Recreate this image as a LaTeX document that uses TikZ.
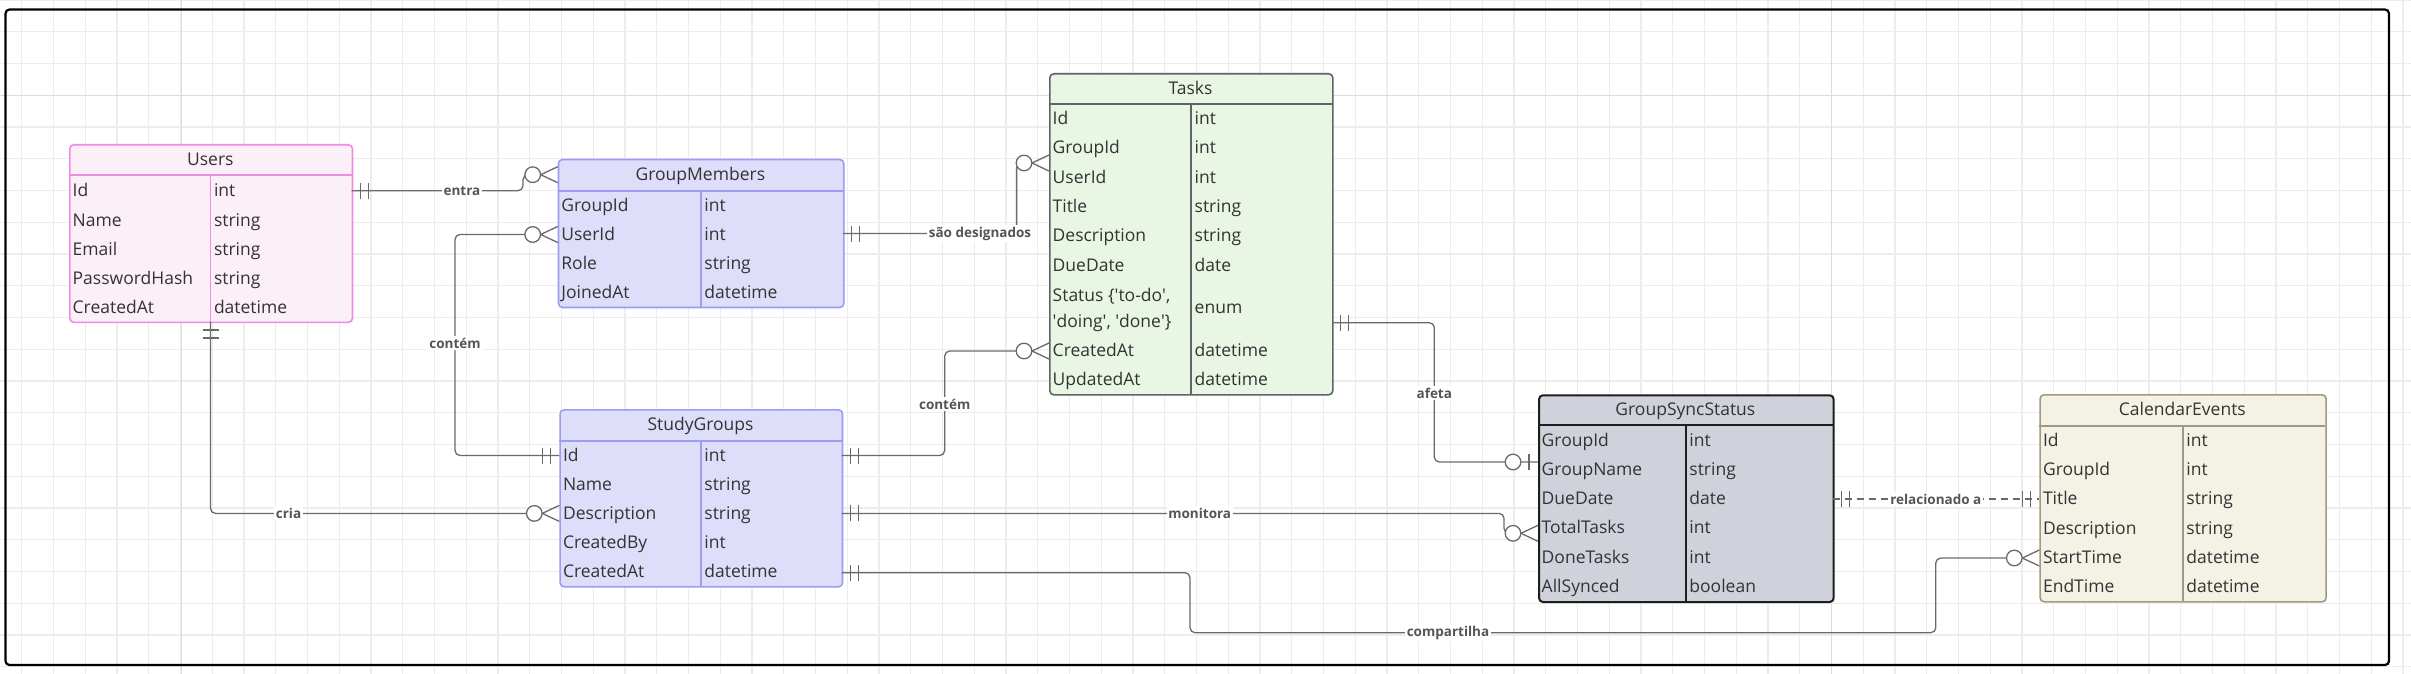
\documentclass[tikz,border=0pt]{standalone}
\usepackage{fontspec}
\setmainfont{Open Sans}
\usetikzlibrary{calc}
\definecolor{usersfill}{HTML}{FBEFF8}
\definecolor{usersdraw}{HTML}{EE8BE2}
\definecolor{grpfill}{HTML}{DEDEFB}
\definecolor{grpdraw}{HTML}{9C9CF2}
\definecolor{taskfill}{HTML}{E8F6E3}
\definecolor{taskdraw}{HTML}{5F6468}
\definecolor{gssfill}{HTML}{CFD2DA}
\definecolor{gssdraw}{HTML}{1E1E1E}
\definecolor{cefill}{HTML}{F4F2E5}
\definecolor{cedraw}{HTML}{A09A82}
\definecolor{txt}{HTML}{333333}
\definecolor{conncol}{HTML}{6A6A6A}
\definecolor{lblcol}{HTML}{555555}
\definecolor{gridcol}{HTML}{EDEDED}
\definecolor{gridmaj}{HTML}{DCDCDC}
\newcommand\erow[6]{\node[ftxt] (#1-k) at ({#2+3.5},{#4+6}) {#5}; \node[ftxt] (#1-v) at ({#3+3.5},{#4+6}) {#6};}
\begin{document}
\begin{tikzpicture}[x=1pt,y=-1pt,
  ebox/.style={rectangle, rounded corners=4pt, line width=1.6pt, inner sep=0, anchor=north west},
  sepl/.style={line width=1.6pt},
  ftxt/.style={anchor=base west, inner sep=0, font=\fontsize{17.5}{21}\selectfont, text=txt},
  ttxt/.style={anchor=base, inner sep=0, font=\fontsize{17.5}{21}\selectfont, text=txt},
  conn/.style={draw=conncol, line width=1.3pt},
  lbl/.style={font=\bfseries\fontsize{13.5}{16}\selectfont, text=lblcol, fill=white, inner sep=1.5pt},
  gridl/.style={draw=gridcol, line width=1.1pt},
  gridm/.style={draw=gridmaj, line width=1.3pt},
  pics/one/.style={code={\draw[conn] (-8.5,-8) -- (-8.5,8) (-16.5,-8) -- (-16.5,8);}},
  pics/zmany/.style={code={\draw[conn] (0,-8) -- (-17,0) -- (0,8); \draw[conn, fill=white] (-25,0) circle[radius=7.8pt];}},
  pics/zone/.style={code={\draw[conn] (-9,-8) -- (-9,8); \draw[conn, fill=white] (-25,0) circle[radius=7.8pt];}},
]
\useasboundingbox (0,0) rectangle (2411,674);
\fill[white] (0,0) rectangle (2411,674);
% grid
\foreach \i in {0,...,75} \draw[gridl] ({21.7+31.75*\i},0) -- ({21.7+31.75*\i},674);
\foreach \j in {0,...,21} \draw[gridl] (0,{31.75*\j}) -- (2411,{31.75*\j});
\draw[gridm] (181.45,0) -- (181.45,674);
\draw[gridm] (1831.45,0) -- (1831.45,674);
\draw[gridm] (0,95.25) -- (2411,95.25);
% frame
\draw[black, line width=2.2pt, rounded corners=4pt] (5.5,9.5) rectangle (2389,665);

% ---------- entities ----------
% Users
\node[ebox, draw=usersdraw, fill=usersfill, minimum width=282.7pt, minimum height=177.5pt] (users) at (69,144) {};
\draw[sepl, usersdraw] (69,175) -- (351.7,175);
\draw[sepl, usersdraw] (210.3,175) -- (210.3,321.5);
\node[ttxt] (users-t) at (210.35,165.5) {Users};
\erow{u1}{69}{210.3}{190.7}{Id}{int}
\erow{u2}{69}{210.3}{220}{Name}{string}
\erow{u3}{69}{210.3}{249.3}{Email}{string}
\erow{u4}{69}{210.3}{278.6}{PasswordHash}{string}
\erow{u5}{69}{210.3}{307.9}{CreatedAt}{datetime}

% GroupMembers
\node[ebox, draw=grpdraw, fill=grpfill, minimum width=285.3pt, minimum height=148pt] (gm) at (557.7,158.7) {};
\draw[sepl, grpdraw] (557.7,190.7) -- (843,190.7);
\draw[sepl, grpdraw] (700.7,190.7) -- (700.7,306.7);
\node[ttxt] (gm-t) at (700.35,180.7) {GroupMembers};
\erow{gm1}{557.7}{700.7}{205.3}{GroupId}{int}
\erow{gm2}{557.7}{700.7}{234.5}{UserId}{int}
\erow{gm3}{557.7}{700.7}{263.7}{Role}{string}
\erow{gm4}{557.7}{700.7}{292.9}{JoinedAt}{datetime}

% Tasks
\node[ebox, draw=taskdraw, fill=taskfill, minimum width=283pt, minimum height=321pt] (tasks) at (1049,73) {};
\draw[sepl, taskdraw] (1049,104) -- (1332,104);
\draw[sepl, taskdraw] (1191,104) -- (1191,394);
\node[ttxt] (tasks-t) at (1190.5,94.5) {Tasks};
\erow{t1}{1049}{1191}{118.65}{Id}{int}
\erow{t2}{1049}{1191}{147.95}{GroupId}{int}
\erow{t3}{1049}{1191}{177.25}{UserId}{int}
\erow{t4}{1049}{1191}{206.55}{Title}{string}
\erow{t5}{1049}{1191}{235.85}{Description}{string}
\erow{t6}{1049}{1191}{265.15}{DueDate}{date}
\node[ftxt] (t7-k1) at (1052.5,301) {Status \{\textquotesingle to-do\textquotesingle,};
\node[ftxt] (t7-k2) at (1052.5,327) {\textquotesingle doing\textquotesingle, \textquotesingle done\textquotesingle\}};
\node[ftxt] (t7-v) at (1194.5,313.6) {enum};
\erow{t8}{1049}{1191}{350.1}{CreatedAt}{datetime}
\erow{t9}{1049}{1191}{379.4}{UpdatedAt}{datetime}

% StudyGroups
\node[ebox, draw=grpdraw, fill=grpfill, minimum width=282.4pt, minimum height=177pt] (sg) at (559.3,409) {};
\draw[sepl, grpdraw] (559.3,440.7) -- (841.7,440.7);
\draw[sepl, grpdraw] (700.7,440.7) -- (700.7,586);
\node[ttxt] (sg-t) at (700.5,430.85) {StudyGroups};
\erow{sg1}{559.3}{700.7}{455.2}{Id}{int}
\erow{sg2}{559.3}{700.7}{484.3}{Name}{string}
\erow{sg3}{559.3}{700.7}{513.4}{Description}{string}
\erow{sg4}{559.3}{700.7}{542.4}{CreatedBy}{int}
\erow{sg5}{559.3}{700.7}{571.5}{CreatedAt}{datetime}

% GroupSyncStatus
\node[ebox, draw=gssdraw, fill=gssfill, line width=2pt, minimum width=294.7pt, minimum height=206.7pt] (gss) at (1538,394.3) {};
\draw[line width=2pt, gssdraw] (1538,425.3) -- (1832.7,425.3);
\draw[line width=2pt, gssdraw] (1685.7,425.3) -- (1685.7,601);
\node[ttxt] (gss-t) at (1685.35,415.8) {GroupSyncStatus};
\erow{g1}{1538}{1685.7}{440}{GroupId}{int}
\erow{g2}{1538}{1685.7}{469.2}{GroupName}{string}
\erow{g3}{1538}{1685.7}{498.5}{DueDate}{date}
\erow{g4}{1538}{1685.7}{527.8}{TotalTasks}{int}
\erow{g5}{1538}{1685.7}{557.1}{DoneTasks}{int}
\erow{g6}{1538}{1685.7}{586.4}{AllSynced}{boolean}

% CalendarEvents
\node[ebox, draw=cedraw, fill=cefill, minimum width=286pt, minimum height=207pt] (ce) at (2039.3,394) {};
\draw[sepl, cedraw] (2039.3,425.7) -- (2325.3,425.7);
\draw[sepl, cedraw] (2182.7,425.7) -- (2182.7,601);
\node[ttxt] (ce-t) at (2182.3,415.85) {CalendarEvents};
\erow{c1}{2039.3}{2182.7}{440.3}{Id}{int}
\erow{c2}{2039.3}{2182.7}{469.5}{GroupId}{int}
\erow{c3}{2039.3}{2182.7}{498.8}{Title}{string}
\erow{c4}{2039.3}{2182.7}{528}{Description}{string}
\erow{c5}{2039.3}{2182.7}{557.3}{StartTime}{datetime}
\erow{c6}{2039.3}{2182.7}{586.5}{EndTime}{datetime}

% ---------- connection points ----------
\coordinate (u-entra) at (351.7,190.7);
\coordinate (u-cria) at (210.5,321.5);
\coordinate (gm-entra) at (557.7,174.7);
\coordinate (gm-contem) at (557.7,234.5);
\coordinate (gm-sd) at (843,233.5);
\coordinate (t-sd) at (1049,163);
\coordinate (t-ct) at (1049,351);
\coordinate (t-af) at (1332,322.7);
\coordinate (sg-ct) at (559.3,455.5);
\coordinate (sg-cria) at (559.3,513.4);
\coordinate (sg-o1) at (841.7,455.5);
\coordinate (sg-o2) at (841.7,513.4);
\coordinate (sg-o3) at (841.7,572.7);
\coordinate (g-af) at (1538,462);
\coordinate (g-mon) at (1538,533.3);
\coordinate (g-rel) at (1832.7,499);
\coordinate (c-rel) at (2039.3,499);
\coordinate (c-comp) at (2039.3,558);
% circle centres of the zero-or-many ends
\coordinate (gm-entra-c) at ($(gm-entra)+(-25,0)$);
\coordinate (gm-contem-c) at ($(gm-contem)+(-25,0)$);
\coordinate (t-sd-c) at ($(t-sd)+(-25,0)$);
\coordinate (t-ct-c) at ($(t-ct)+(-25,0)$);
\coordinate (sg-cria-c) at ($(sg-cria)+(-25,0)$);
\coordinate (g-mon-c) at ($(g-mon)+(-25,0)$);
\coordinate (c-comp-c) at ($(c-comp)+(-25,0)$);

% ---------- connectors ----------
\begin{scope}[rounded corners=5pt]
\draw[conn] (u-entra) -- ++(171.3,0) |- (gm-entra-c);
\draw[conn] (gm-sd) -- ++(173.6,0) |- (t-sd-c);
\draw[conn] (sg-ct) -- ++(-104.3,0) |- (gm-contem-c);
\draw[conn] (sg-o1) -- ++(103,0) |- (t-ct-c);
\draw[conn] (t-af) -- ++(102.3,0) |- (g-af);
\draw[conn] (sg-o2) -- ++(662.3,0) |- (g-mon-c);
\draw[conn] (sg-o3) -- ++(348.3,0) -- ++(0,60) -- ++(745.8,0) |- (c-comp-c);
\draw[conn] (u-cria) |- (sg-cria-c);
\end{scope}
\draw[conn, dash pattern=on 7pt off 5pt] (g-rel) -- (c-rel);

% ---------- markers ----------
\pic[rotate=180] at (u-entra) {one};
\pic at (gm-entra) {zmany};
\pic[rotate=180] at (gm-sd) {one};
\pic at (t-sd) {zmany};
\pic at (sg-ct) {one};
\pic at (gm-contem) {zmany};
\pic[rotate=180] at (sg-o1) {one};
\pic at (t-ct) {zmany};
\pic[rotate=180] at (t-af) {one};
\pic at (g-af) {zone};
\pic[rotate=180] at (sg-o2) {one};
\pic at (g-mon) {zmany};
\pic[rotate=180] at (sg-o3) {one};
\pic at (c-comp) {zmany};
\pic[rotate=180] at (g-rel) {one};
\pic at (c-rel) {one};
\pic[rotate=90] at (u-cria) {one};
\pic at (sg-cria) {zmany};

% ---------- labels ----------
\node[lbl] (l-entra) at (462,190.7) {entra};
\node[lbl] (l-sd) at (980,233.5) {são designados};
\node[lbl] (l-ct1) at (455,343) {contém};
\node[lbl] (l-ct2) at (944.7,404) {contém};
\node[lbl] (l-af) at (1434.3,393) {afeta};
\node[lbl] (l-mon) at (1199.7,513.4) {monitora};
\node[lbl] (l-comp) at (1448,632.7) {compartilha};
\node[lbl] (l-rel) at (1935.8,499) {relacionado a};
\node[lbl] (l-cria) at (288.5,513.4) {cria};
\end{tikzpicture}
\end{document}
